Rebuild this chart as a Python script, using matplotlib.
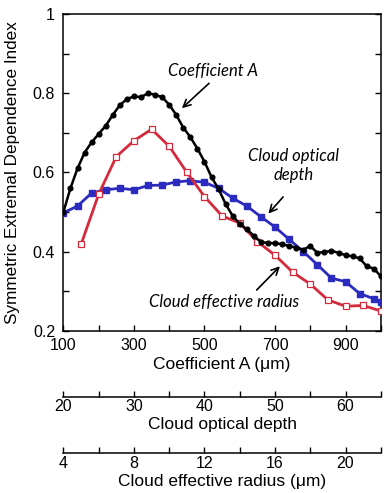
import matplotlib
matplotlib.use("Agg")
import matplotlib.pyplot as plt

plt.rcParams['font.family'] = ['Liberation Sans', 'DejaVu Sans']

# Coefficient A curve (black, filled circles)
coef_a = [100, 120, 140, 160, 180, 200, 220, 240, 260, 280, 300, 320, 340, 360,
          380, 400, 420, 440, 460, 480, 500, 520, 540, 560, 580, 600, 620, 640,
          660, 680, 700, 720, 740, 760, 780, 800, 820, 840, 860, 880, 900, 920,
          940, 960, 980, 1000]
sedi_a = [0.500, 0.560, 0.610, 0.650, 0.676, 0.697, 0.718, 0.745, 0.770, 0.785,
          0.792, 0.790, 0.800, 0.796, 0.790, 0.771, 0.745, 0.713, 0.689, 0.660,
          0.627, 0.588, 0.558, 0.520, 0.490, 0.470, 0.456, 0.440, 0.424, 0.422,
          0.421, 0.419, 0.414, 0.410, 0.405, 0.414, 0.397, 0.399, 0.402, 0.397,
          0.391, 0.388, 0.383, 0.363, 0.357, 0.338]

# Cloud optical depth curve (blue, filled squares)
tau = [20, 22, 24, 26, 28, 30, 32, 34, 36, 38, 40, 42, 44, 46, 48, 50, 52, 54,
       56, 58, 60, 62, 64, 65]
sedi_tau = [0.498, 0.515, 0.548, 0.556, 0.560, 0.556, 0.567, 0.568, 0.576,
            0.579, 0.575, 0.560, 0.535, 0.515, 0.488, 0.462, 0.431, 0.400,
            0.367, 0.333, 0.324, 0.294, 0.281, 0.273]

# Cloud effective radius curve (red, open squares)
reff = [5, 6, 7, 8, 9, 10, 11, 12, 13, 14, 15, 16, 17, 18, 19, 20, 21, 22]
sedi_reff = [0.418, 0.545, 0.640, 0.680, 0.709, 0.666, 0.600, 0.539, 0.490,
             0.472, 0.425, 0.391, 0.348, 0.318, 0.278, 0.262, 0.264, 0.250]

FS_TICK = 11.5
FS_LAB = 12.5

fig = plt.figure(figsize=(3.89, 4.93), dpi=100)
ax = fig.add_axes([0.163, 0.329, 0.816, 0.6426])

ax.set_xlim(100, 1000)
ax.set_ylim(0.2, 1.0)
ax.set_xticks(range(100, 1001, 100))
ax.set_xticklabels([str(v) if v % 200 == 100 else '' for v in range(100, 1001, 100)])
ax.set_yticks([0.2, 0.3, 0.4, 0.5, 0.6, 0.7, 0.8, 0.9, 1.0])
ax.set_yticklabels(['0.2', '', '0.4', '', '0.6', '', '0.8', '', '1'])
ax.tick_params(direction='in', length=4, width=1, labelsize=FS_TICK,
               top=True, right=True)
ax.tick_params(axis='x', pad=5)
ax.tick_params(axis='y', pad=6)
for s in ax.spines.values():
    s.set_linewidth(1.1)
ax.set_xlabel('Coefficient A (\u03bcm)', fontsize=FS_LAB, labelpad=3)
ax.set_ylabel('Symmetric Extremal Dependence Index', fontsize=12.3)
ax.yaxis.set_label_coords(-0.138, 0.5)

# twin axes carrying the other two scales
ax_tau = ax.twiny()
ax_tau.set_xlim(20, 65)
ax_tau.axis('off')
ax_re = ax.twiny()
ax_re.set_xlim(4, 22)
ax_re.axis('off')
ax_a = ax.twiny()
ax_a.set_xlim(100, 1000)
ax_a.axis('off')

ax_tau.plot(tau, sedi_tau, color='#2b2bbf', lw=2, marker='s', ms=4.2,
            mec='#2b2bbf', mfc='#2b2bbf')
ax_re.plot(reff, sedi_reff, color='#d42a3c', lw=2, marker='s', ms=4.8,
           mec='#d42a3c', mfc='white', mew=0.9)
ax_a.plot(coef_a, sedi_a, color='black', lw=1.8, marker='o', ms=3.4)

# annotations
note = dict(family='Lato', style='italic', fontsize=12)
arrow = dict(arrowstyle='->', color='black', lw=1.2,
             mutation_scale=13, shrinkA=0, shrinkB=0)
ax_a.text(525, 0.857, 'Coefficient A', ha='center', va='center', **note)
ax_a.annotate('', xy=(436, 0.762), xytext=(513, 0.825), arrowprops=arrow)
ax_a.text(752, 0.618, 'Cloud optical\ndepth', ha='center', va='center',
          linespacing=1.2, **note)
ax_a.annotate('', xy=(681, 0.496), xytext=(723, 0.538), arrowprops=arrow)
ax_a.text(556, 0.273, 'Cloud effective radius', ha='center', va='center', **note)
ax_a.annotate('', xy=(714, 0.363), xytext=(648, 0.303), arrowprops=arrow)


def bottom_scale(ypos, lo, hi, ticks, labels, title, title_y):
    b = fig.add_axes([0.163, ypos, 0.816, 0.0001])
    b.set_xlim(lo, hi)
    b.set_yticks([])
    for side in ('left', 'right', 'top'):
        b.spines[side].set_visible(False)
    b.spines['bottom'].set_linewidth(1.1)
    b.set_xticks(ticks)
    b.set_xticklabels(labels)
    b.tick_params(axis='x', direction='in', length=4, width=1,
                  labelsize=FS_TICK, pad=2)
    b.patch.set_visible(False)
    fig.text(0.163 + 0.816 / 2, title_y, title, ha='center', va='center',
             fontsize=FS_LAB)
    return b


tau_ticks = [20, 25, 30, 35, 40, 45, 50, 55, 60, 65]
tau_labels = ['20', '', '30', '', '40', '', '50', '', '60', '']
reff_ticks = [4, 6, 8, 10, 12, 14, 16, 18, 20, 22]
reff_labels = ['4', '', '8', '', '12', '', '16', '', '20', '']

bottom_scale(0.1953, 20, 65, tau_ticks, tau_labels, 'Cloud optical depth', 0.139)
bottom_scale(0.0811, 4, 22, reff_ticks, reff_labels,
             'Cloud effective radius (\u03bcm)', 0.024)

fig.savefig('out.png', dpi=100)
